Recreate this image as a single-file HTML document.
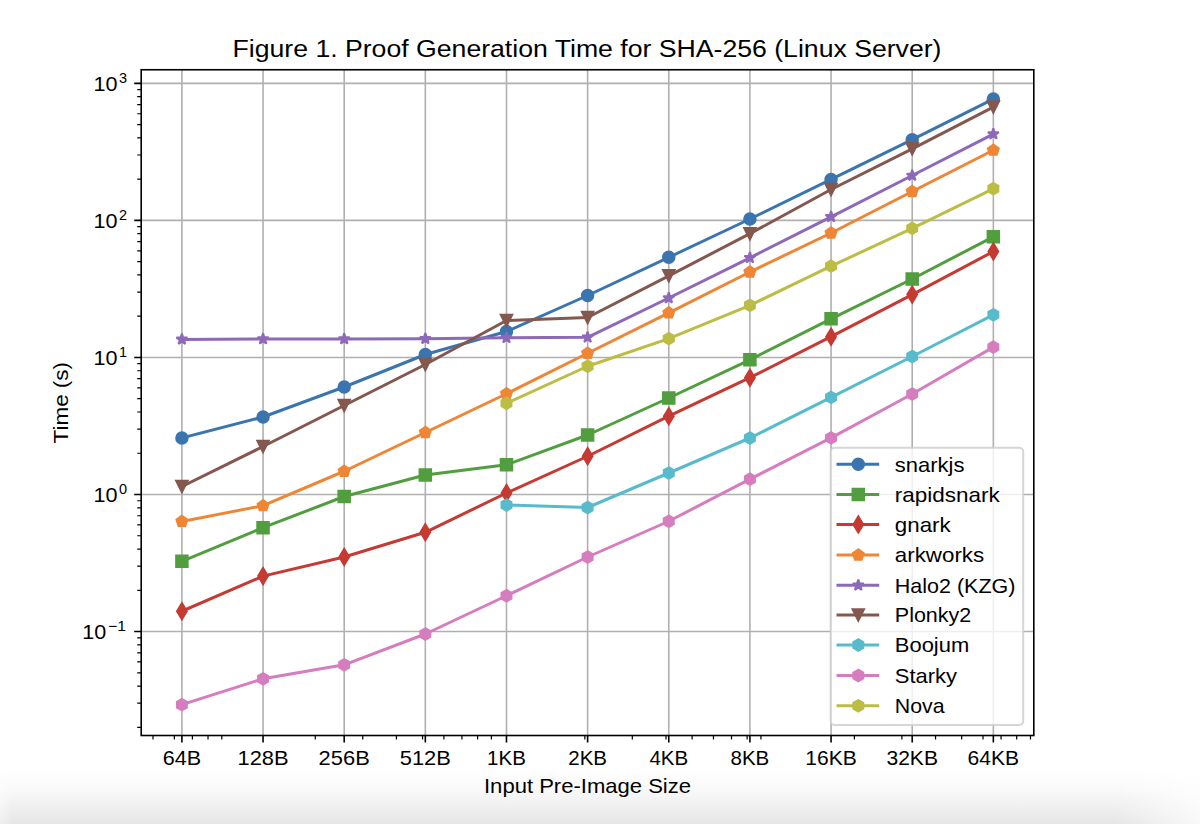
<!DOCTYPE html><html><head><meta charset="utf-8"><title>Figure 1</title>
<style>html,body{margin:0;padding:0;background:#fff;width:1200px;height:824px;overflow:hidden}svg{display:block}</style>
</head><body>
<svg width="1200" height="824" viewBox="0 0 1200 824" font-family='"Liberation Sans", sans-serif'>
<defs>
<linearGradient id="bg" x1="0" y1="0" x2="0" y2="1"><stop offset="0" stop-color="#ffffff"/><stop offset="0.35" stop-color="#f9f9f9"/><stop offset="0.7" stop-color="#efefef"/><stop offset="1" stop-color="#e6e6e6"/></linearGradient>
<linearGradient id="bgm" x1="0" y1="0" x2="1" y2="0"><stop offset="0" stop-color="#fff" stop-opacity="0.6"/><stop offset="0.01" stop-color="#fff" stop-opacity="1"/><stop offset="0.93" stop-color="#fff" stop-opacity="1"/><stop offset="1" stop-color="#fff" stop-opacity="0.25"/></linearGradient>
<mask id="mk"><rect x="0" y="768" width="1200" height="56" fill="url(#bgm)"/></mask>
<clipPath id="ax"><rect x="141.2" y="69.75" width="892.6" height="665.75"/></clipPath>
</defs>
<rect x="0" y="0" width="1200" height="824" fill="#ffffff"/>
<rect x="0" y="770" width="1200" height="54" fill="url(#bg)" mask="url(#mk)"/>
<path d="M181.9,69.75V735.5 M263.05,69.75V735.5 M344.19,69.75V735.5 M425.33,69.75V735.5 M506.48,69.75V735.5 M587.62,69.75V735.5 M668.77,69.75V735.5 M749.91,69.75V735.5 M831.06,69.75V735.5 M912.2,69.75V735.5 M993.35,69.75V735.5 M141.2,631.55H1033.8 M141.2,494.5H1033.8 M141.2,357.45H1033.8 M141.2,220.4H1033.8 M141.2,83.35H1033.8" stroke="#b0b0b0" stroke-width="1.6" fill="none"/>
<g clip-path="url(#ax)">
<path d="M181.9,438 L263.05,417 L344.19,387 L425.33,354.5 L506.48,331.5 L587.62,295.5 L668.77,257.3 L749.91,219 L831.06,179.4 L912.2,139.7 L993.35,99.1" stroke="#3b75af" stroke-width="3" fill="none" stroke-linejoin="round" stroke-linecap="square"/>
<circle cx="181.9" cy="438" r="5.75" fill="#3b75af" stroke="#3b75af" stroke-width="2"/>
<circle cx="263.05" cy="417" r="5.75" fill="#3b75af" stroke="#3b75af" stroke-width="2"/>
<circle cx="344.19" cy="387" r="5.75" fill="#3b75af" stroke="#3b75af" stroke-width="2"/>
<circle cx="425.33" cy="354.5" r="5.75" fill="#3b75af" stroke="#3b75af" stroke-width="2"/>
<circle cx="506.48" cy="331.5" r="5.75" fill="#3b75af" stroke="#3b75af" stroke-width="2"/>
<circle cx="587.62" cy="295.5" r="5.75" fill="#3b75af" stroke="#3b75af" stroke-width="2"/>
<circle cx="668.77" cy="257.3" r="5.75" fill="#3b75af" stroke="#3b75af" stroke-width="2"/>
<circle cx="749.91" cy="219" r="5.75" fill="#3b75af" stroke="#3b75af" stroke-width="2"/>
<circle cx="831.06" cy="179.4" r="5.75" fill="#3b75af" stroke="#3b75af" stroke-width="2"/>
<circle cx="912.2" cy="139.7" r="5.75" fill="#3b75af" stroke="#3b75af" stroke-width="2"/>
<circle cx="993.35" cy="99.1" r="5.75" fill="#3b75af" stroke="#3b75af" stroke-width="2"/>
<path d="M181.9,561.3 L263.05,527.7 L344.19,496.5 L425.33,475 L506.48,464.8 L587.62,435 L668.77,398 L749.91,359.8 L831.06,318.8 L912.2,279 L993.35,236.8" stroke="#519e3e" stroke-width="3" fill="none" stroke-linejoin="round" stroke-linecap="square"/>
<path transform="translate(181.9,561.3)" d="M-5.75,-5.75 L5.75,-5.75 L5.75,5.75 L-5.75,5.75 Z" fill="#519e3e" stroke="#519e3e" stroke-width="2" stroke-linejoin="miter"/>
<path transform="translate(263.05,527.7)" d="M-5.75,-5.75 L5.75,-5.75 L5.75,5.75 L-5.75,5.75 Z" fill="#519e3e" stroke="#519e3e" stroke-width="2" stroke-linejoin="miter"/>
<path transform="translate(344.19,496.5)" d="M-5.75,-5.75 L5.75,-5.75 L5.75,5.75 L-5.75,5.75 Z" fill="#519e3e" stroke="#519e3e" stroke-width="2" stroke-linejoin="miter"/>
<path transform="translate(425.33,475)" d="M-5.75,-5.75 L5.75,-5.75 L5.75,5.75 L-5.75,5.75 Z" fill="#519e3e" stroke="#519e3e" stroke-width="2" stroke-linejoin="miter"/>
<path transform="translate(506.48,464.8)" d="M-5.75,-5.75 L5.75,-5.75 L5.75,5.75 L-5.75,5.75 Z" fill="#519e3e" stroke="#519e3e" stroke-width="2" stroke-linejoin="miter"/>
<path transform="translate(587.62,435)" d="M-5.75,-5.75 L5.75,-5.75 L5.75,5.75 L-5.75,5.75 Z" fill="#519e3e" stroke="#519e3e" stroke-width="2" stroke-linejoin="miter"/>
<path transform="translate(668.77,398)" d="M-5.75,-5.75 L5.75,-5.75 L5.75,5.75 L-5.75,5.75 Z" fill="#519e3e" stroke="#519e3e" stroke-width="2" stroke-linejoin="miter"/>
<path transform="translate(749.91,359.8)" d="M-5.75,-5.75 L5.75,-5.75 L5.75,5.75 L-5.75,5.75 Z" fill="#519e3e" stroke="#519e3e" stroke-width="2" stroke-linejoin="miter"/>
<path transform="translate(831.06,318.8)" d="M-5.75,-5.75 L5.75,-5.75 L5.75,5.75 L-5.75,5.75 Z" fill="#519e3e" stroke="#519e3e" stroke-width="2" stroke-linejoin="miter"/>
<path transform="translate(912.2,279)" d="M-5.75,-5.75 L5.75,-5.75 L5.75,5.75 L-5.75,5.75 Z" fill="#519e3e" stroke="#519e3e" stroke-width="2" stroke-linejoin="miter"/>
<path transform="translate(993.35,236.8)" d="M-5.75,-5.75 L5.75,-5.75 L5.75,5.75 L-5.75,5.75 Z" fill="#519e3e" stroke="#519e3e" stroke-width="2" stroke-linejoin="miter"/>
<path d="M181.9,611.2 L263.05,576.1 L344.19,557 L425.33,532.3 L506.48,493 L587.62,456.25 L668.77,416.2 L749.91,377.7 L831.06,336.7 L912.2,294.6 L993.35,251.5" stroke="#c53a32" stroke-width="3" fill="none" stroke-linejoin="round" stroke-linecap="square"/>
<path transform="translate(181.9,611.2)" d="M0.00,-8.13 L4.88,0.00 L0.00,8.13 L-4.88,0.00 Z" fill="#c53a32" stroke="#c53a32" stroke-width="2" stroke-linejoin="miter"/>
<path transform="translate(263.05,576.1)" d="M0.00,-8.13 L4.88,0.00 L0.00,8.13 L-4.88,0.00 Z" fill="#c53a32" stroke="#c53a32" stroke-width="2" stroke-linejoin="miter"/>
<path transform="translate(344.19,557)" d="M0.00,-8.13 L4.88,0.00 L0.00,8.13 L-4.88,0.00 Z" fill="#c53a32" stroke="#c53a32" stroke-width="2" stroke-linejoin="miter"/>
<path transform="translate(425.33,532.3)" d="M0.00,-8.13 L4.88,0.00 L0.00,8.13 L-4.88,0.00 Z" fill="#c53a32" stroke="#c53a32" stroke-width="2" stroke-linejoin="miter"/>
<path transform="translate(506.48,493)" d="M0.00,-8.13 L4.88,0.00 L0.00,8.13 L-4.88,0.00 Z" fill="#c53a32" stroke="#c53a32" stroke-width="2" stroke-linejoin="miter"/>
<path transform="translate(587.62,456.25)" d="M0.00,-8.13 L4.88,0.00 L0.00,8.13 L-4.88,0.00 Z" fill="#c53a32" stroke="#c53a32" stroke-width="2" stroke-linejoin="miter"/>
<path transform="translate(668.77,416.2)" d="M0.00,-8.13 L4.88,0.00 L0.00,8.13 L-4.88,0.00 Z" fill="#c53a32" stroke="#c53a32" stroke-width="2" stroke-linejoin="miter"/>
<path transform="translate(749.91,377.7)" d="M0.00,-8.13 L4.88,0.00 L0.00,8.13 L-4.88,0.00 Z" fill="#c53a32" stroke="#c53a32" stroke-width="2" stroke-linejoin="miter"/>
<path transform="translate(831.06,336.7)" d="M0.00,-8.13 L4.88,0.00 L0.00,8.13 L-4.88,0.00 Z" fill="#c53a32" stroke="#c53a32" stroke-width="2" stroke-linejoin="miter"/>
<path transform="translate(912.2,294.6)" d="M0.00,-8.13 L4.88,0.00 L0.00,8.13 L-4.88,0.00 Z" fill="#c53a32" stroke="#c53a32" stroke-width="2" stroke-linejoin="miter"/>
<path transform="translate(993.35,251.5)" d="M0.00,-8.13 L4.88,0.00 L0.00,8.13 L-4.88,0.00 Z" fill="#c53a32" stroke="#c53a32" stroke-width="2" stroke-linejoin="miter"/>
<path d="M181.9,521.4 L263.05,505.7 L344.19,471.25 L425.33,432.5 L506.48,393.75 L587.62,353.25 L668.77,312.8 L749.91,272 L831.06,233 L912.2,191.5 L993.35,150.2" stroke="#ef8636" stroke-width="3" fill="none" stroke-linejoin="round" stroke-linecap="square"/>
<path transform="translate(181.9,521.4)" d="M0.00,-5.75 L-5.47,-1.78 L-3.38,4.65 L3.38,4.65 L5.47,-1.78 Z" fill="#ef8636" stroke="#ef8636" stroke-width="2" stroke-linejoin="miter"/>
<path transform="translate(263.05,505.7)" d="M0.00,-5.75 L-5.47,-1.78 L-3.38,4.65 L3.38,4.65 L5.47,-1.78 Z" fill="#ef8636" stroke="#ef8636" stroke-width="2" stroke-linejoin="miter"/>
<path transform="translate(344.19,471.25)" d="M0.00,-5.75 L-5.47,-1.78 L-3.38,4.65 L3.38,4.65 L5.47,-1.78 Z" fill="#ef8636" stroke="#ef8636" stroke-width="2" stroke-linejoin="miter"/>
<path transform="translate(425.33,432.5)" d="M0.00,-5.75 L-5.47,-1.78 L-3.38,4.65 L3.38,4.65 L5.47,-1.78 Z" fill="#ef8636" stroke="#ef8636" stroke-width="2" stroke-linejoin="miter"/>
<path transform="translate(506.48,393.75)" d="M0.00,-5.75 L-5.47,-1.78 L-3.38,4.65 L3.38,4.65 L5.47,-1.78 Z" fill="#ef8636" stroke="#ef8636" stroke-width="2" stroke-linejoin="miter"/>
<path transform="translate(587.62,353.25)" d="M0.00,-5.75 L-5.47,-1.78 L-3.38,4.65 L3.38,4.65 L5.47,-1.78 Z" fill="#ef8636" stroke="#ef8636" stroke-width="2" stroke-linejoin="miter"/>
<path transform="translate(668.77,312.8)" d="M0.00,-5.75 L-5.47,-1.78 L-3.38,4.65 L3.38,4.65 L5.47,-1.78 Z" fill="#ef8636" stroke="#ef8636" stroke-width="2" stroke-linejoin="miter"/>
<path transform="translate(749.91,272)" d="M0.00,-5.75 L-5.47,-1.78 L-3.38,4.65 L3.38,4.65 L5.47,-1.78 Z" fill="#ef8636" stroke="#ef8636" stroke-width="2" stroke-linejoin="miter"/>
<path transform="translate(831.06,233)" d="M0.00,-5.75 L-5.47,-1.78 L-3.38,4.65 L3.38,4.65 L5.47,-1.78 Z" fill="#ef8636" stroke="#ef8636" stroke-width="2" stroke-linejoin="miter"/>
<path transform="translate(912.2,191.5)" d="M0.00,-5.75 L-5.47,-1.78 L-3.38,4.65 L3.38,4.65 L5.47,-1.78 Z" fill="#ef8636" stroke="#ef8636" stroke-width="2" stroke-linejoin="miter"/>
<path transform="translate(993.35,150.2)" d="M0.00,-5.75 L-5.47,-1.78 L-3.38,4.65 L3.38,4.65 L5.47,-1.78 Z" fill="#ef8636" stroke="#ef8636" stroke-width="2" stroke-linejoin="miter"/>
<path d="M181.9,339.4 L263.05,339 L344.19,339 L425.33,338.7 L506.48,337.8 L587.62,337.3 L668.77,298 L749.91,257.8 L831.06,216.8 L912.2,175.5 L993.35,134" stroke="#8d69b8" stroke-width="3" fill="none" stroke-linejoin="round" stroke-linecap="square"/>
<path transform="translate(181.9,339.4)" d="M0.00,-5.75 L-1.29,-1.78 L-5.47,-1.78 L-2.09,0.68 L-3.38,4.65 L-0.00,2.20 L3.38,4.65 L2.09,0.68 L5.47,-1.78 L1.29,-1.78 Z" fill="#8d69b8" stroke="#8d69b8" stroke-width="2" stroke-linejoin="bevel"/>
<path transform="translate(263.05,339)" d="M0.00,-5.75 L-1.29,-1.78 L-5.47,-1.78 L-2.09,0.68 L-3.38,4.65 L-0.00,2.20 L3.38,4.65 L2.09,0.68 L5.47,-1.78 L1.29,-1.78 Z" fill="#8d69b8" stroke="#8d69b8" stroke-width="2" stroke-linejoin="bevel"/>
<path transform="translate(344.19,339)" d="M0.00,-5.75 L-1.29,-1.78 L-5.47,-1.78 L-2.09,0.68 L-3.38,4.65 L-0.00,2.20 L3.38,4.65 L2.09,0.68 L5.47,-1.78 L1.29,-1.78 Z" fill="#8d69b8" stroke="#8d69b8" stroke-width="2" stroke-linejoin="bevel"/>
<path transform="translate(425.33,338.7)" d="M0.00,-5.75 L-1.29,-1.78 L-5.47,-1.78 L-2.09,0.68 L-3.38,4.65 L-0.00,2.20 L3.38,4.65 L2.09,0.68 L5.47,-1.78 L1.29,-1.78 Z" fill="#8d69b8" stroke="#8d69b8" stroke-width="2" stroke-linejoin="bevel"/>
<path transform="translate(506.48,337.8)" d="M0.00,-5.75 L-1.29,-1.78 L-5.47,-1.78 L-2.09,0.68 L-3.38,4.65 L-0.00,2.20 L3.38,4.65 L2.09,0.68 L5.47,-1.78 L1.29,-1.78 Z" fill="#8d69b8" stroke="#8d69b8" stroke-width="2" stroke-linejoin="bevel"/>
<path transform="translate(587.62,337.3)" d="M0.00,-5.75 L-1.29,-1.78 L-5.47,-1.78 L-2.09,0.68 L-3.38,4.65 L-0.00,2.20 L3.38,4.65 L2.09,0.68 L5.47,-1.78 L1.29,-1.78 Z" fill="#8d69b8" stroke="#8d69b8" stroke-width="2" stroke-linejoin="bevel"/>
<path transform="translate(668.77,298)" d="M0.00,-5.75 L-1.29,-1.78 L-5.47,-1.78 L-2.09,0.68 L-3.38,4.65 L-0.00,2.20 L3.38,4.65 L2.09,0.68 L5.47,-1.78 L1.29,-1.78 Z" fill="#8d69b8" stroke="#8d69b8" stroke-width="2" stroke-linejoin="bevel"/>
<path transform="translate(749.91,257.8)" d="M0.00,-5.75 L-1.29,-1.78 L-5.47,-1.78 L-2.09,0.68 L-3.38,4.65 L-0.00,2.20 L3.38,4.65 L2.09,0.68 L5.47,-1.78 L1.29,-1.78 Z" fill="#8d69b8" stroke="#8d69b8" stroke-width="2" stroke-linejoin="bevel"/>
<path transform="translate(831.06,216.8)" d="M0.00,-5.75 L-1.29,-1.78 L-5.47,-1.78 L-2.09,0.68 L-3.38,4.65 L-0.00,2.20 L3.38,4.65 L2.09,0.68 L5.47,-1.78 L1.29,-1.78 Z" fill="#8d69b8" stroke="#8d69b8" stroke-width="2" stroke-linejoin="bevel"/>
<path transform="translate(912.2,175.5)" d="M0.00,-5.75 L-1.29,-1.78 L-5.47,-1.78 L-2.09,0.68 L-3.38,4.65 L-0.00,2.20 L3.38,4.65 L2.09,0.68 L5.47,-1.78 L1.29,-1.78 Z" fill="#8d69b8" stroke="#8d69b8" stroke-width="2" stroke-linejoin="bevel"/>
<path transform="translate(993.35,134)" d="M0.00,-5.75 L-1.29,-1.78 L-5.47,-1.78 L-2.09,0.68 L-3.38,4.65 L-0.00,2.20 L3.38,4.65 L2.09,0.68 L5.47,-1.78 L1.29,-1.78 Z" fill="#8d69b8" stroke="#8d69b8" stroke-width="2" stroke-linejoin="bevel"/>
<path d="M181.9,486.5 L263.05,446.5 L344.19,405.5 L425.33,364.5 L506.48,320.5 L587.62,317.5 L668.77,275.8 L749.91,233.7 L831.06,189.5 L912.2,148.8 L993.35,107" stroke="#84584e" stroke-width="3" fill="none" stroke-linejoin="round" stroke-linecap="square"/>
<path transform="translate(181.9,486.5)" d="M0.00,5.75 L-5.75,-5.75 L5.75,-5.75 Z" fill="#84584e" stroke="#84584e" stroke-width="2" stroke-linejoin="miter"/>
<path transform="translate(263.05,446.5)" d="M0.00,5.75 L-5.75,-5.75 L5.75,-5.75 Z" fill="#84584e" stroke="#84584e" stroke-width="2" stroke-linejoin="miter"/>
<path transform="translate(344.19,405.5)" d="M0.00,5.75 L-5.75,-5.75 L5.75,-5.75 Z" fill="#84584e" stroke="#84584e" stroke-width="2" stroke-linejoin="miter"/>
<path transform="translate(425.33,364.5)" d="M0.00,5.75 L-5.75,-5.75 L5.75,-5.75 Z" fill="#84584e" stroke="#84584e" stroke-width="2" stroke-linejoin="miter"/>
<path transform="translate(506.48,320.5)" d="M0.00,5.75 L-5.75,-5.75 L5.75,-5.75 Z" fill="#84584e" stroke="#84584e" stroke-width="2" stroke-linejoin="miter"/>
<path transform="translate(587.62,317.5)" d="M0.00,5.75 L-5.75,-5.75 L5.75,-5.75 Z" fill="#84584e" stroke="#84584e" stroke-width="2" stroke-linejoin="miter"/>
<path transform="translate(668.77,275.8)" d="M0.00,5.75 L-5.75,-5.75 L5.75,-5.75 Z" fill="#84584e" stroke="#84584e" stroke-width="2" stroke-linejoin="miter"/>
<path transform="translate(749.91,233.7)" d="M0.00,5.75 L-5.75,-5.75 L5.75,-5.75 Z" fill="#84584e" stroke="#84584e" stroke-width="2" stroke-linejoin="miter"/>
<path transform="translate(831.06,189.5)" d="M0.00,5.75 L-5.75,-5.75 L5.75,-5.75 Z" fill="#84584e" stroke="#84584e" stroke-width="2" stroke-linejoin="miter"/>
<path transform="translate(912.2,148.8)" d="M0.00,5.75 L-5.75,-5.75 L5.75,-5.75 Z" fill="#84584e" stroke="#84584e" stroke-width="2" stroke-linejoin="miter"/>
<path transform="translate(993.35,107)" d="M0.00,5.75 L-5.75,-5.75 L5.75,-5.75 Z" fill="#84584e" stroke="#84584e" stroke-width="2" stroke-linejoin="miter"/>
<path d="M506.48,505 L587.62,507.5 L668.77,473 L749.91,438 L831.06,397.4 L912.2,356.5 L993.35,314.8" stroke="#58bbcc" stroke-width="3" fill="none" stroke-linejoin="round" stroke-linecap="square"/>
<path transform="translate(506.48,505)" d="M0.00,-5.75 L-4.98,-2.87 L-4.98,2.88 L-0.00,5.75 L4.98,2.88 L4.98,-2.88 Z" fill="#58bbcc" stroke="#58bbcc" stroke-width="2" stroke-linejoin="miter"/>
<path transform="translate(587.62,507.5)" d="M0.00,-5.75 L-4.98,-2.87 L-4.98,2.88 L-0.00,5.75 L4.98,2.88 L4.98,-2.88 Z" fill="#58bbcc" stroke="#58bbcc" stroke-width="2" stroke-linejoin="miter"/>
<path transform="translate(668.77,473)" d="M0.00,-5.75 L-4.98,-2.87 L-4.98,2.88 L-0.00,5.75 L4.98,2.88 L4.98,-2.88 Z" fill="#58bbcc" stroke="#58bbcc" stroke-width="2" stroke-linejoin="miter"/>
<path transform="translate(749.91,438)" d="M0.00,-5.75 L-4.98,-2.87 L-4.98,2.88 L-0.00,5.75 L4.98,2.88 L4.98,-2.88 Z" fill="#58bbcc" stroke="#58bbcc" stroke-width="2" stroke-linejoin="miter"/>
<path transform="translate(831.06,397.4)" d="M0.00,-5.75 L-4.98,-2.87 L-4.98,2.88 L-0.00,5.75 L4.98,2.88 L4.98,-2.88 Z" fill="#58bbcc" stroke="#58bbcc" stroke-width="2" stroke-linejoin="miter"/>
<path transform="translate(912.2,356.5)" d="M0.00,-5.75 L-4.98,-2.87 L-4.98,2.88 L-0.00,5.75 L4.98,2.88 L4.98,-2.88 Z" fill="#58bbcc" stroke="#58bbcc" stroke-width="2" stroke-linejoin="miter"/>
<path transform="translate(993.35,314.8)" d="M0.00,-5.75 L-4.98,-2.87 L-4.98,2.88 L-0.00,5.75 L4.98,2.88 L4.98,-2.88 Z" fill="#58bbcc" stroke="#58bbcc" stroke-width="2" stroke-linejoin="miter"/>
<path d="M181.9,704.7 L263.05,678.8 L344.19,664.8 L425.33,634 L506.48,595.75 L587.62,557 L668.77,521.25 L749.91,479.2 L831.06,437.9 L912.2,394 L993.35,347.1" stroke="#d57dbe" stroke-width="3" fill="none" stroke-linejoin="round" stroke-linecap="square"/>
<path transform="translate(181.9,704.7)" d="M0.00,-5.75 L-4.98,-2.87 L-4.98,2.88 L-0.00,5.75 L4.98,2.88 L4.98,-2.88 Z" fill="#d57dbe" stroke="#d57dbe" stroke-width="2" stroke-linejoin="miter"/>
<path transform="translate(263.05,678.8)" d="M0.00,-5.75 L-4.98,-2.87 L-4.98,2.88 L-0.00,5.75 L4.98,2.88 L4.98,-2.88 Z" fill="#d57dbe" stroke="#d57dbe" stroke-width="2" stroke-linejoin="miter"/>
<path transform="translate(344.19,664.8)" d="M0.00,-5.75 L-4.98,-2.87 L-4.98,2.88 L-0.00,5.75 L4.98,2.88 L4.98,-2.88 Z" fill="#d57dbe" stroke="#d57dbe" stroke-width="2" stroke-linejoin="miter"/>
<path transform="translate(425.33,634)" d="M0.00,-5.75 L-4.98,-2.87 L-4.98,2.88 L-0.00,5.75 L4.98,2.88 L4.98,-2.88 Z" fill="#d57dbe" stroke="#d57dbe" stroke-width="2" stroke-linejoin="miter"/>
<path transform="translate(506.48,595.75)" d="M0.00,-5.75 L-4.98,-2.87 L-4.98,2.88 L-0.00,5.75 L4.98,2.88 L4.98,-2.88 Z" fill="#d57dbe" stroke="#d57dbe" stroke-width="2" stroke-linejoin="miter"/>
<path transform="translate(587.62,557)" d="M0.00,-5.75 L-4.98,-2.87 L-4.98,2.88 L-0.00,5.75 L4.98,2.88 L4.98,-2.88 Z" fill="#d57dbe" stroke="#d57dbe" stroke-width="2" stroke-linejoin="miter"/>
<path transform="translate(668.77,521.25)" d="M0.00,-5.75 L-4.98,-2.87 L-4.98,2.88 L-0.00,5.75 L4.98,2.88 L4.98,-2.88 Z" fill="#d57dbe" stroke="#d57dbe" stroke-width="2" stroke-linejoin="miter"/>
<path transform="translate(749.91,479.2)" d="M0.00,-5.75 L-4.98,-2.87 L-4.98,2.88 L-0.00,5.75 L4.98,2.88 L4.98,-2.88 Z" fill="#d57dbe" stroke="#d57dbe" stroke-width="2" stroke-linejoin="miter"/>
<path transform="translate(831.06,437.9)" d="M0.00,-5.75 L-4.98,-2.87 L-4.98,2.88 L-0.00,5.75 L4.98,2.88 L4.98,-2.88 Z" fill="#d57dbe" stroke="#d57dbe" stroke-width="2" stroke-linejoin="miter"/>
<path transform="translate(912.2,394)" d="M0.00,-5.75 L-4.98,-2.87 L-4.98,2.88 L-0.00,5.75 L4.98,2.88 L4.98,-2.88 Z" fill="#d57dbe" stroke="#d57dbe" stroke-width="2" stroke-linejoin="miter"/>
<path transform="translate(993.35,347.1)" d="M0.00,-5.75 L-4.98,-2.87 L-4.98,2.88 L-0.00,5.75 L4.98,2.88 L4.98,-2.88 Z" fill="#d57dbe" stroke="#d57dbe" stroke-width="2" stroke-linejoin="miter"/>
<path d="M506.48,403.25 L587.62,366.25 L668.77,338.6 L749.91,305.3 L831.06,266.1 L912.2,228.4 L993.35,188.7" stroke="#bcbd45" stroke-width="3" fill="none" stroke-linejoin="round" stroke-linecap="square"/>
<path transform="translate(506.48,403.25)" d="M0.00,-5.75 L-4.98,-2.87 L-4.98,2.88 L-0.00,5.75 L4.98,2.88 L4.98,-2.88 Z" fill="#bcbd45" stroke="#bcbd45" stroke-width="2" stroke-linejoin="miter"/>
<path transform="translate(587.62,366.25)" d="M0.00,-5.75 L-4.98,-2.87 L-4.98,2.88 L-0.00,5.75 L4.98,2.88 L4.98,-2.88 Z" fill="#bcbd45" stroke="#bcbd45" stroke-width="2" stroke-linejoin="miter"/>
<path transform="translate(668.77,338.6)" d="M0.00,-5.75 L-4.98,-2.87 L-4.98,2.88 L-0.00,5.75 L4.98,2.88 L4.98,-2.88 Z" fill="#bcbd45" stroke="#bcbd45" stroke-width="2" stroke-linejoin="miter"/>
<path transform="translate(749.91,305.3)" d="M0.00,-5.75 L-4.98,-2.87 L-4.98,2.88 L-0.00,5.75 L4.98,2.88 L4.98,-2.88 Z" fill="#bcbd45" stroke="#bcbd45" stroke-width="2" stroke-linejoin="miter"/>
<path transform="translate(831.06,266.1)" d="M0.00,-5.75 L-4.98,-2.87 L-4.98,2.88 L-0.00,5.75 L4.98,2.88 L4.98,-2.88 Z" fill="#bcbd45" stroke="#bcbd45" stroke-width="2" stroke-linejoin="miter"/>
<path transform="translate(912.2,228.4)" d="M0.00,-5.75 L-4.98,-2.87 L-4.98,2.88 L-0.00,5.75 L4.98,2.88 L4.98,-2.88 Z" fill="#bcbd45" stroke="#bcbd45" stroke-width="2" stroke-linejoin="miter"/>
<path transform="translate(993.35,188.7)" d="M0.00,-5.75 L-4.98,-2.87 L-4.98,2.88 L-0.00,5.75 L4.98,2.88 L4.98,-2.88 Z" fill="#bcbd45" stroke="#bcbd45" stroke-width="2" stroke-linejoin="miter"/>
</g>
<rect x="141.2" y="69.75" width="892.6" height="665.75" fill="none" stroke="#000" stroke-width="1.6" stroke-linejoin="miter"/>
<path d="M181.9,735.5V742.5 M263.05,735.5V742.5 M344.19,735.5V742.5 M425.33,735.5V742.5 M506.48,735.5V742.5 M587.62,735.5V742.5 M668.77,735.5V742.5 M749.91,735.5V742.5 M831.06,735.5V742.5 M912.2,735.5V742.5 M993.35,735.5V742.5 M141.2,631.55H134.2 M141.2,494.5H134.2 M141.2,357.45H134.2 M141.2,220.4H134.2 M141.2,83.35H134.2" stroke="#000" stroke-width="1.6" fill="none"/>
<path d="M153,735.5V739.5 M174.34,735.5V739.5 M192.39,735.5V739.5 M208.02,735.5V739.5 M221.81,735.5V739.5 M315.29,735.5V739.5 M362.76,735.5V739.5 M396.44,735.5V739.5 M422.56,735.5V739.5 M443.9,735.5V739.5 M461.95,735.5V739.5 M477.58,735.5V739.5 M491.37,735.5V739.5 M584.85,735.5V739.5 M632.32,735.5V739.5 M665.99,735.5V739.5 M692.12,735.5V739.5 M713.46,735.5V739.5 M731.51,735.5V739.5 M747.14,735.5V739.5 M760.93,735.5V739.5 M854.41,735.5V739.5 M901.87,735.5V739.5 M935.55,735.5V739.5 M961.67,735.5V739.5 M983.02,735.5V739.5 M1001.06,735.5V739.5 M1016.7,735.5V739.5 M1030.48,735.5V739.5 M141.2,727.34H137.2 M141.2,703.21H137.2 M141.2,686.09H137.2 M141.2,672.81H137.2 M141.2,661.95H137.2 M141.2,652.78H137.2 M141.2,644.83H137.2 M141.2,637.82H137.2 M141.2,590.29H137.2 M141.2,566.16H137.2 M141.2,549.04H137.2 M141.2,535.76H137.2 M141.2,524.9H137.2 M141.2,515.73H137.2 M141.2,507.78H137.2 M141.2,500.77H137.2 M141.2,453.24H137.2 M141.2,429.11H137.2 M141.2,411.99H137.2 M141.2,398.71H137.2 M141.2,387.85H137.2 M141.2,378.68H137.2 M141.2,370.73H137.2 M141.2,363.72H137.2 M141.2,316.19H137.2 M141.2,292.06H137.2 M141.2,274.94H137.2 M141.2,261.66H137.2 M141.2,250.8H137.2 M141.2,241.63H137.2 M141.2,233.68H137.2 M141.2,226.67H137.2 M141.2,179.14H137.2 M141.2,155.01H137.2 M141.2,137.89H137.2 M141.2,124.61H137.2 M141.2,113.75H137.2 M141.2,104.58H137.2 M141.2,96.63H137.2 M141.2,89.62H137.2" stroke="#000" stroke-width="1.2" fill="none"/>
<text x="181.9" y="765" font-size="21" text-anchor="middle" textLength="38.37" lengthAdjust="spacingAndGlyphs" fill="#000">64B</text>
<text x="263.05" y="765" font-size="21" text-anchor="middle" textLength="51.1" lengthAdjust="spacingAndGlyphs" fill="#000">128B</text>
<text x="344.19" y="765" font-size="21" text-anchor="middle" textLength="51.1" lengthAdjust="spacingAndGlyphs" fill="#000">256B</text>
<text x="425.33" y="765" font-size="21" text-anchor="middle" textLength="51.1" lengthAdjust="spacingAndGlyphs" fill="#000">512B</text>
<text x="506.48" y="765" font-size="21" text-anchor="middle" textLength="38.76" lengthAdjust="spacingAndGlyphs" fill="#000">1KB</text>
<text x="587.62" y="765" font-size="21" text-anchor="middle" textLength="38.76" lengthAdjust="spacingAndGlyphs" fill="#000">2KB</text>
<text x="668.77" y="765" font-size="21" text-anchor="middle" textLength="38.76" lengthAdjust="spacingAndGlyphs" fill="#000">4KB</text>
<text x="749.91" y="765" font-size="21" text-anchor="middle" textLength="38.76" lengthAdjust="spacingAndGlyphs" fill="#000">8KB</text>
<text x="831.06" y="765" font-size="21" text-anchor="middle" textLength="51.49" lengthAdjust="spacingAndGlyphs" fill="#000">16KB</text>
<text x="912.2" y="765" font-size="21" text-anchor="middle" textLength="51.49" lengthAdjust="spacingAndGlyphs" fill="#000">32KB</text>
<text x="993.35" y="765" font-size="21" text-anchor="middle" textLength="51.49" lengthAdjust="spacingAndGlyphs" fill="#000">64KB</text>
<text x="82.2" y="638.85" font-size="21" textLength="24" lengthAdjust="spacingAndGlyphs" fill="#000">10</text>
<text x="108" y="631.45" font-size="14.5" fill="#000" textLength="18" lengthAdjust="spacingAndGlyphs">−1</text>
<text x="93.5" y="501.8" font-size="21" textLength="24" lengthAdjust="spacingAndGlyphs" fill="#000">10</text>
<text x="127" y="494.4" font-size="14.5" fill="#000" text-anchor="end">0</text>
<text x="93.5" y="364.75" font-size="21" textLength="24" lengthAdjust="spacingAndGlyphs" fill="#000">10</text>
<text x="127" y="357.35" font-size="14.5" fill="#000" text-anchor="end">1</text>
<text x="93.5" y="227.7" font-size="21" textLength="24" lengthAdjust="spacingAndGlyphs" fill="#000">10</text>
<text x="127" y="220.3" font-size="14.5" fill="#000" text-anchor="end">2</text>
<text x="93.5" y="90.65" font-size="21" textLength="24" lengthAdjust="spacingAndGlyphs" fill="#000">10</text>
<text x="127" y="83.25" font-size="14.5" fill="#000" text-anchor="end">3</text>
<text x="587.5" y="793" font-size="21" text-anchor="middle" textLength="207" lengthAdjust="spacingAndGlyphs" fill="#000">Input Pre-Image Size</text>
<text transform="translate(67.6,402.7) rotate(-90)" x="0" y="0" font-size="21" text-anchor="middle" textLength="81.5" lengthAdjust="spacingAndGlyphs" fill="#000">Time (s)</text>
<text x="587" y="57.1" font-size="24.8" text-anchor="middle" textLength="709" lengthAdjust="spacingAndGlyphs" fill="#000">Figure 1. Proof Generation Time for SHA-256 (Linux Server)</text>
<rect x="830.7" y="447.8" width="192.5" height="277.1" rx="4" ry="4" fill="#ffffff" fill-opacity="0.8" stroke="#cccccc" stroke-opacity="0.8" stroke-width="2"/>
<path d="M838,464.3H877.7" stroke="#3b75af" stroke-width="3" stroke-linecap="square"/>
<circle cx="858.3" cy="464.3" r="5.75" fill="#3b75af" stroke="#3b75af" stroke-width="2"/>
<text x="894.8" y="471.6" font-size="21" textLength="69.64" lengthAdjust="spacingAndGlyphs" fill="#000">snarkjs</text>
<path d="M838,494.4H877.7" stroke="#519e3e" stroke-width="3" stroke-linecap="square"/>
<path transform="translate(858.3,494.4)" d="M-5.75,-5.75 L5.75,-5.75 L5.75,5.75 L-5.75,5.75 Z" fill="#519e3e" stroke="#519e3e" stroke-width="2" stroke-linejoin="miter"/>
<text x="894.8" y="501.7" font-size="21" textLength="105.09" lengthAdjust="spacingAndGlyphs" fill="#000">rapidsnark</text>
<path d="M838,524.5H877.7" stroke="#c53a32" stroke-width="3" stroke-linecap="square"/>
<path transform="translate(858.3,524.5)" d="M0.00,-8.13 L4.88,0.00 L0.00,8.13 L-4.88,0.00 Z" fill="#c53a32" stroke="#c53a32" stroke-width="2" stroke-linejoin="miter"/>
<text x="894.8" y="531.8" font-size="21" textLength="55.93" lengthAdjust="spacingAndGlyphs" fill="#000">gnark</text>
<path d="M838,555H877.7" stroke="#ef8636" stroke-width="3" stroke-linecap="square"/>
<path transform="translate(858.3,555)" d="M0.00,-5.75 L-5.47,-1.78 L-3.38,4.65 L3.38,4.65 L5.47,-1.78 Z" fill="#ef8636" stroke="#ef8636" stroke-width="2" stroke-linejoin="miter"/>
<text x="894.8" y="562.3" font-size="21" textLength="89.38" lengthAdjust="spacingAndGlyphs" fill="#000">arkworks</text>
<path d="M838,585.2H877.7" stroke="#8d69b8" stroke-width="3" stroke-linecap="square"/>
<path transform="translate(858.3,585.2)" d="M0.00,-5.75 L-1.29,-1.78 L-5.47,-1.78 L-2.09,0.68 L-3.38,4.65 L-0.00,2.20 L3.38,4.65 L2.09,0.68 L5.47,-1.78 L1.29,-1.78 Z" fill="#8d69b8" stroke="#8d69b8" stroke-width="2" stroke-linejoin="bevel"/>
<text x="894.8" y="592.5" font-size="21" textLength="120.59" lengthAdjust="spacingAndGlyphs" fill="#000">Halo2 (KZG)</text>
<path d="M838,615H877.7" stroke="#84584e" stroke-width="3" stroke-linecap="square"/>
<path transform="translate(858.3,615)" d="M0.00,5.75 L-5.75,-5.75 L5.75,-5.75 Z" fill="#84584e" stroke="#84584e" stroke-width="2" stroke-linejoin="miter"/>
<text x="894.8" y="622.3" font-size="21" textLength="76.46" lengthAdjust="spacingAndGlyphs" fill="#000">Plonky2</text>
<path d="M838,645H877.7" stroke="#58bbcc" stroke-width="3" stroke-linecap="square"/>
<path transform="translate(858.3,645)" d="M0.00,-5.75 L-4.98,-2.87 L-4.98,2.88 L-0.00,5.75 L4.98,2.88 L4.98,-2.88 Z" fill="#58bbcc" stroke="#58bbcc" stroke-width="2" stroke-linejoin="miter"/>
<text x="894.8" y="652.3" font-size="21" textLength="74.41" lengthAdjust="spacingAndGlyphs" fill="#000">Boojum</text>
<path d="M838,675.5H877.7" stroke="#d57dbe" stroke-width="3" stroke-linecap="square"/>
<path transform="translate(858.3,675.5)" d="M0.00,-5.75 L-4.98,-2.87 L-4.98,2.88 L-0.00,5.75 L4.98,2.88 L4.98,-2.88 Z" fill="#d57dbe" stroke="#d57dbe" stroke-width="2" stroke-linejoin="miter"/>
<text x="894.8" y="682.8" font-size="21" textLength="62.22" lengthAdjust="spacingAndGlyphs" fill="#000">Starky</text>
<path d="M838,705.8H877.7" stroke="#bcbd45" stroke-width="3" stroke-linecap="square"/>
<path transform="translate(858.3,705.8)" d="M0.00,-5.75 L-4.98,-2.87 L-4.98,2.88 L-0.00,5.75 L4.98,2.88 L4.98,-2.88 Z" fill="#bcbd45" stroke="#bcbd45" stroke-width="2" stroke-linejoin="miter"/>
<text x="894.8" y="713.1" font-size="21" textLength="49.79" lengthAdjust="spacingAndGlyphs" fill="#000">Nova</text>
</svg></body></html>
